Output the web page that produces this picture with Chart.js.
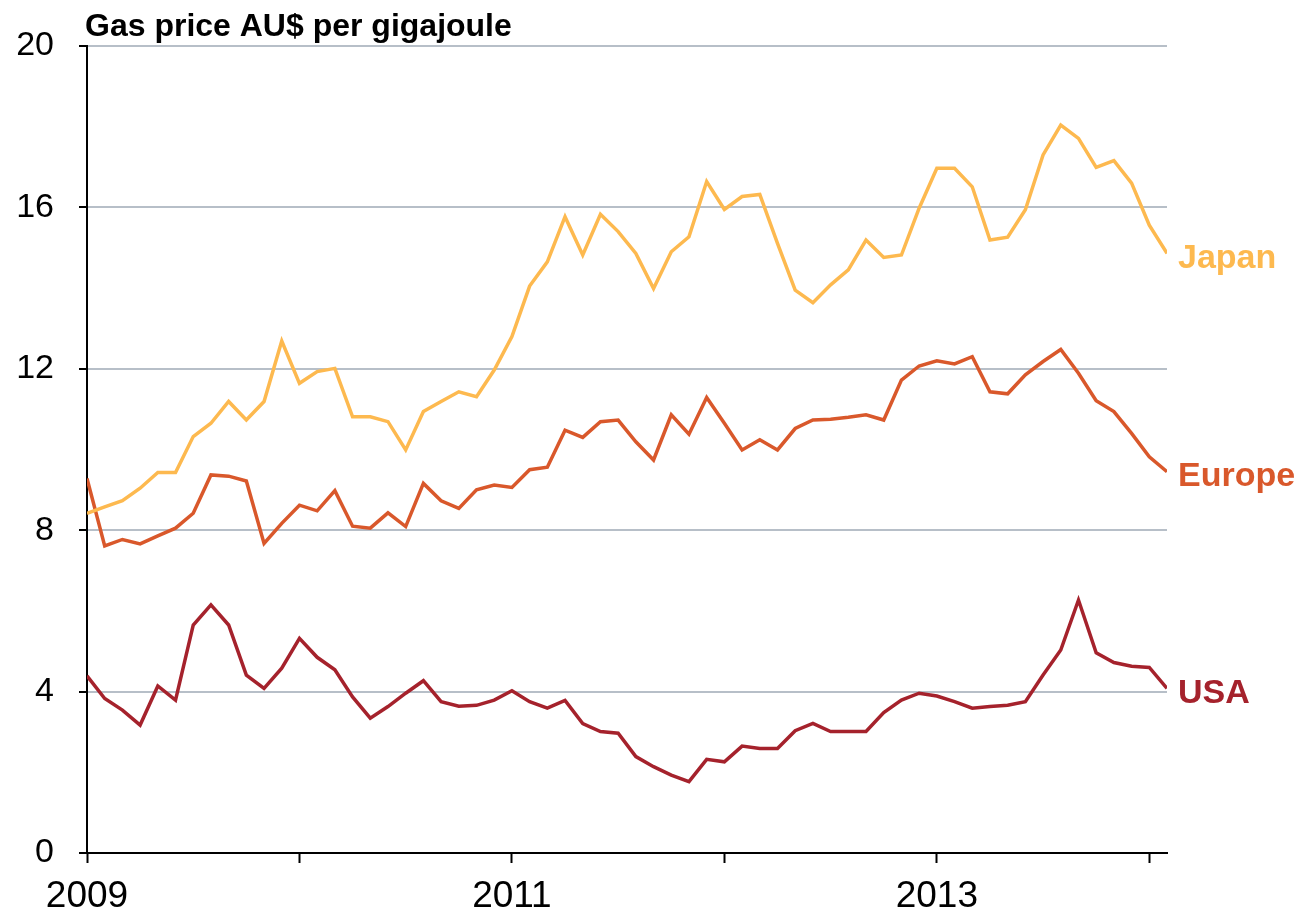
<!DOCTYPE html>
<html lang="en">
<head>
  <meta charset="UTF-8">
  <title>Gas price AU$ per gigajoule</title>
  <script src="https://cdn.jsdelivr.net/npm/chart.js@4.4.0/dist/chart.umd.min.js"></script>
  <style>
    body {
      margin: 0;
      background: #ffffff;
    }
    .wrap {
      width: 1310px;
      height: 913px;
      position: relative;
    }
  </style>
</head>
<body>

<div class="wrap">
  <canvas id="gasChart"></canvas>
</div>

<script>
  // monthly prices, Jan 2009 .. Feb 2014
  const startYear = 2009;
  const japan = [
    8.42, 8.58, 8.73, 9.04, 9.43, 9.43, 10.32, 10.65, 11.19, 10.73, 11.19, 12.69,
    11.64, 11.93, 12.01, 10.81, 10.81, 10.69, 9.99, 10.94, 11.19, 11.43, 11.31, 11.97,
    12.80, 14.05, 14.65, 15.77, 14.82, 15.83, 15.40, 14.86, 13.99, 14.90, 15.27, 16.64,
    15.95, 16.27, 16.32, 15.11, 13.95, 13.64, 14.08, 14.45, 15.19, 14.76, 14.82, 15.98,
    16.97, 16.97, 16.51, 15.19, 15.26, 15.94, 17.30, 18.04, 17.71, 16.99, 17.16, 16.60,
    15.56, 14.86
  ];
  const europe = [
    9.28, 7.61, 7.77, 7.66, 7.86, 8.05, 8.42, 9.37, 9.34, 9.22, 7.67, 8.17,
    8.62, 8.48, 8.98, 8.10, 8.05, 8.43, 8.09, 9.16, 8.73, 8.54, 9.00, 9.12,
    9.06, 9.50, 9.56, 10.48, 10.30, 10.69, 10.73, 10.19, 9.74, 10.86, 10.38, 11.29,
    10.65, 9.99, 10.24, 9.99, 10.52, 10.73, 10.75, 10.80, 10.86, 10.73, 11.72, 12.07,
    12.20, 12.12, 12.30, 11.43, 11.38, 11.85, 12.18, 12.48, 11.89, 11.21, 10.94, 10.40,
    9.82, 9.45
  ];
  const usa = [
    4.39, 3.83, 3.54, 3.17, 4.14, 3.79, 5.65, 6.15, 5.65, 4.41, 4.08, 4.58,
    5.32, 4.85, 4.54, 3.87, 3.34, 3.63, 3.96, 4.27, 3.75, 3.64, 3.66, 3.79,
    4.02, 3.75, 3.59, 3.78, 3.21, 3.01, 2.97, 2.39, 2.14, 1.93, 1.77, 2.32,
    2.26, 2.65, 2.59, 2.59, 3.03, 3.21, 3.01, 3.01, 3.01, 3.48, 3.79, 3.96,
    3.89, 3.75, 3.59, 3.63, 3.66, 3.75, 4.41, 5.03, 6.27, 4.96, 4.72, 4.63,
    4.60, 4.08
  ];
  const seriesNames = ['Japan', 'Europe', 'USA'];
  const seriesColors = ['#fdb94f', '#d9582b', '#a5222c'];
  const yearTicks = [2009, 2010, 2011, 2012, 2013, 2014];
  const yearLabels = ['2009', '', '2011', '', '2013', ''];
  const yTicks = [0, 4, 8, 12, 16, 20];

  const fontFamily = '"Liberation Sans", Arial, sans-serif';

  // x value of each month as a fraction of a year
  function toPoints(values) {
    return values.map((v, i) => ({ x: startYear + i / 12, y: v }));
  }

  const lastX = startYear + (japan.length - 1) / 12;

  // title above the plot
  const titlePlugin = {
    id: 'titleText',
    afterDraw(chart) {
      const ctx = chart.ctx;
      ctx.save();
      ctx.fillStyle = '#000';
      ctx.font = 'bold 32px ' + fontFamily;
      ctx.textAlign = 'left';
      ctx.textBaseline = 'alphabetic';
      ctx.fillText('Gas price AU$ per gigajoule', 85, 36);
      ctx.restore();
    }
  };

  // series names next to the last point of each line
  const endLabels = {
    id: 'endLabels',
    afterDatasetsDraw(chart) {
      const ctx = chart.ctx;
      ctx.save();
      ctx.font = 'bold 34px ' + fontFamily;
      ctx.textAlign = 'left';
      ctx.textBaseline = 'middle';
      chart.data.datasets.forEach((ds, i) => {
        const meta = chart.getDatasetMeta(i);
        const last = meta.data[meta.data.length - 1];
        ctx.fillStyle = ds.borderColor;
        ctx.fillText(ds.label, last.x + 11, last.y + 5);
      });
      ctx.restore();
    }
  };

  const ctx = document.getElementById('gasChart').getContext('2d');
  new Chart(ctx, {
    type: 'line',
    data: {
      datasets: [japan, europe, usa].map((vals, i) => ({
        label: seriesNames[i],
        data: toPoints(vals),
        borderColor: seriesColors[i],
        backgroundColor: seriesColors[i],
        borderWidth: 3.5,
        pointRadius: 0,
        tension: 0,
        fill: false
      }))
    },
    options: {
      responsive: true,
      maintainAspectRatio: false,
      devicePixelRatio: 1,
      animation: false,
      layout: {
        padding: { top: 46, right: 143, bottom: 0, left: 0 }
      },
      plugins: {
        legend: { display: false },
        tooltip: { enabled: false }
      },
      scales: {
        x: {
          type: 'linear',
          min: startYear,
          max: lastX,
          afterFit(scale) { scale.height = 60; },
          afterBuildTicks(scale) {
            scale.ticks = yearTicks.map(v => ({ value: v }));
          },
          border: { display: true, color: '#000', width: 2 },
          grid: {
            drawOnChartArea: false,
            drawTicks: true,
            tickLength: 10,
            tickColor: '#000',
            tickWidth: 2
          },
          ticks: {
            autoSkip: false,
            maxRotation: 0,
            padding: 12,
            color: '#000',
            font: { family: fontFamily, size: 37 },
            callback(value) {
              const k = yearTicks.indexOf(value);
              return k >= 0 ? yearLabels[k] : '';
            }
          }
        },
        y: {
          min: 0,
          max: 20,
          afterFit(scale) { scale.width = 87; },
          afterBuildTicks(scale) {
            scale.ticks = yTicks.map(v => ({ value: v }));
          },
          border: { display: true, color: '#000', width: 2 },
          grid: {
            color: c => c.tick && c.tick.value === 0 ? 'rgba(0,0,0,0)' : '#b7bfc8',
            lineWidth: 2,
            tickLength: 8,
            tickColor: '#000',
            tickWidth: 2
          },
          ticks: {
            padding: 25,
            color: '#000',
            font: { family: fontFamily, size: 34 }
          }
        }
      }
    },
    plugins: [titlePlugin, endLabels]
  });
</script>

</body>
</html>
